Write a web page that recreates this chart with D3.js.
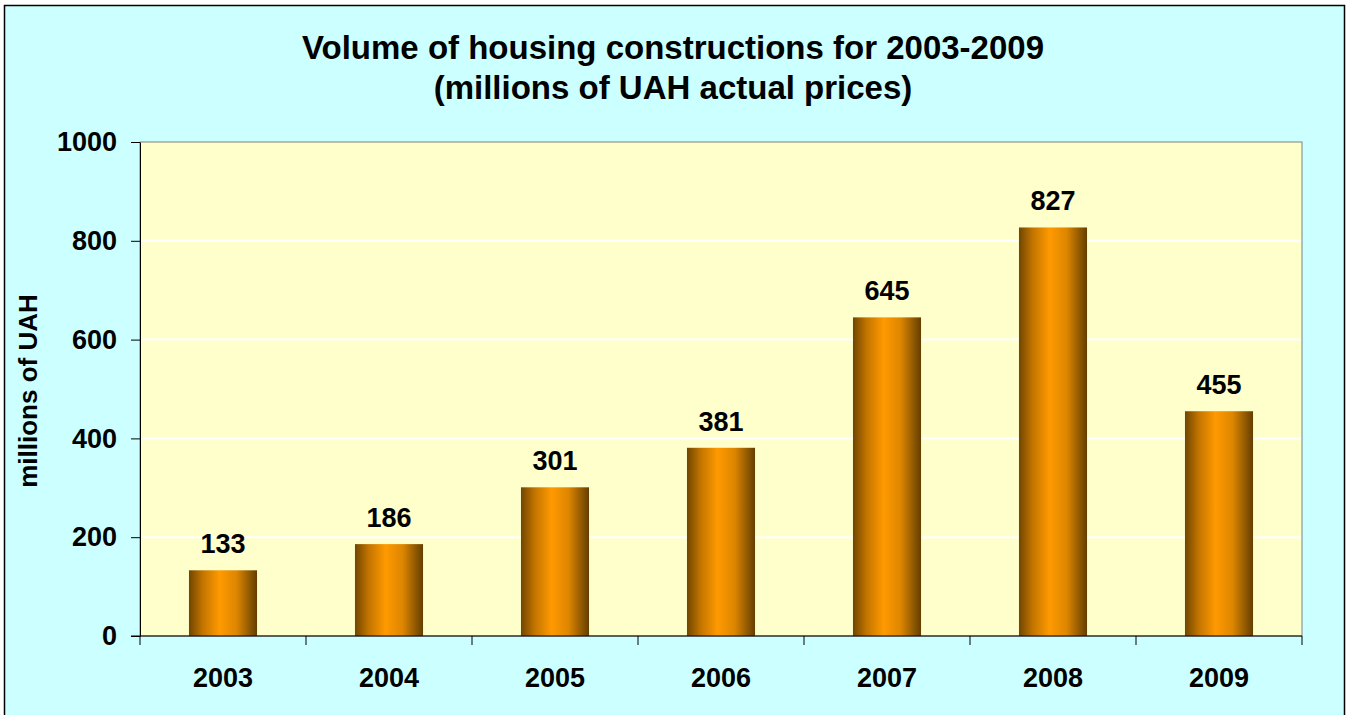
<!DOCTYPE html>
<html>
<head>
<meta charset="utf-8">
<script src="https://cdn.jsdelivr.net/npm/d3@7"></script>
<style>
  body { margin: 0; background: #ffffff; }
  text { font-family: "Liberation Sans", Arial, sans-serif; font-weight: bold; fill: #000; }
</style>
</head>
<body>
<svg id="chart"></svg>
<script>
// chart data
const years = ["2003", "2004", "2005", "2006", "2007", "2008", "2009"];
const volumes = [133, 186, 301, 381, 645, 827, 455];
const yTicks = [0, 200, 400, 600, 800, 1000];
const titleLines = ["Volume of housing constructions for 2003-2009", "(millions of UAH actual prices)"];
const yLabel = "millions of UAH";

const W = 1352, H = 715;
const margin = { top: 142, right: 50, bottom: 79, left: 140 };
const plotW = W - margin.left - margin.right;
const plotH = H - margin.top - margin.bottom;

const svg = d3.select("#chart")
    .attr("width", W)
    .attr("height", H);

// outer frame
svg.append("rect")
    .attr("x", 4.5).attr("y", 5.5)
    .attr("width", 1340).attr("height", 714)
    .attr("fill", "#ccffff")
    .attr("stroke", "#000").attr("stroke-width", 1.5);

// title
svg.append("g").selectAll("text")
    .data(titleLines)
    .join("text")
    .attr("x", 673)
    .attr("y", (d, i) => 59 + i * 40)
    .attr("text-anchor", "middle")
    .attr("font-size", 33)
    .text(d => d);

const g = svg.append("g")
    .attr("transform", `translate(${margin.left},${margin.top})`);

// scales
const xCat = d3.scaleBand().domain(years).range([0, plotW]).padding(0);
const x = xCat.copy().paddingInner(0.59).paddingOuter(0.295);
const y = d3.scaleLinear().domain([0, 1000]).range([plotH, 0]);

// plot area
g.append("rect")
    .attr("width", plotW).attr("height", plotH)
    .attr("fill", "#ffffcc")
    .attr("stroke", "#808080").attr("stroke-width", 1);

// gridlines
g.append("g").selectAll("line")
    .data(yTicks.filter(d => d > 0 && d < 1000))
    .join("line")
    .attr("x1", 1).attr("x2", plotW - 1)
    .attr("y1", d => y(d)).attr("y2", d => y(d))
    .attr("stroke", "#ffffff").attr("stroke-width", 2);

// bar gradient
const grad = svg.append("defs").append("linearGradient")
    .attr("id", "barGrad")
    .attr("x1", "0%").attr("x2", "100%").attr("y1", "0%").attr("y2", "0%");
grad.append("stop").attr("offset", "0%").attr("stop-color", "#704600");
grad.append("stop").attr("offset", "20%").attr("stop-color", "#c27400");
grad.append("stop").attr("offset", "45%").attr("stop-color", "#ff9a00");
grad.append("stop").attr("offset", "70%").attr("stop-color", "#dd8600");
grad.append("stop").attr("offset", "100%").attr("stop-color", "#643e00");

// bars
g.selectAll(".bar")
    .data(years.map((d, i) => ({ year: d, value: volumes[i] })))
    .join("rect")
    .attr("class", "bar")
    .attr("x", d => x(d.year))
    .attr("y", d => y(d.value))
    .attr("width", x.bandwidth())
    .attr("height", d => y(0) - y(d.value))
    .attr("fill", "url(#barGrad)");

// value labels
g.selectAll(".val")
    .data(years.map((d, i) => ({ year: d, value: volumes[i] })))
    .join("text")
    .attr("class", "val")
    .attr("x", d => x(d.year) + x.bandwidth() / 2)
    .attr("y", d => y(d.value) - 17)
    .attr("text-anchor", "middle")
    .attr("font-size", 27)
    .text(d => d.value);

// y axis
const yAxis = g.append("g")
    .call(d3.axisLeft(y).tickValues(yTicks).tickFormat(d3.format("d"))
        .tickSize(9).tickSizeOuter(0).tickPadding(14));
yAxis.select(".domain").attr("stroke", "#000");
yAxis.selectAll(".tick line").attr("stroke", "#000");
yAxis.selectAll(".tick text")
    .attr("font-size", 27)
    .attr("font-family", "'Liberation Sans', Arial, sans-serif")
    .attr("font-weight", "bold")
    .attr("fill", "#000");

// extend y axis below x axis
g.append("line")
    .attr("x1", 0).attr("x2", 0)
    .attr("y1", plotH).attr("y2", plotH + 9)
    .attr("stroke", "#000");

// x axis with ticks at category boundaries
g.append("line")
    .attr("x1", -9).attr("x2", plotW)
    .attr("y1", plotH).attr("y2", plotH)
    .attr("stroke", "#000");
g.append("g").selectAll("line")
    .data(years.slice(1).concat(["end"]))
    .join("line")
    .attr("x1", d => d === "end" ? plotW : xCat(d))
    .attr("x2", d => d === "end" ? plotW : xCat(d))
    .attr("y1", plotH).attr("y2", plotH + 9)
    .attr("stroke", "#000");

g.append("g").selectAll("text")
    .data(years)
    .join("text")
    .attr("x", d => xCat(d) + xCat.bandwidth() / 2)
    .attr("y", plotH + 51)
    .attr("text-anchor", "middle")
    .attr("font-size", 27)
    .text(d => d);

// y axis title
svg.append("text")
    .attr("transform", `translate(37,391) rotate(-90)`)
    .attr("text-anchor", "middle")
    .attr("font-size", 26)
    .text(yLabel);
</script>
</body>
</html>
